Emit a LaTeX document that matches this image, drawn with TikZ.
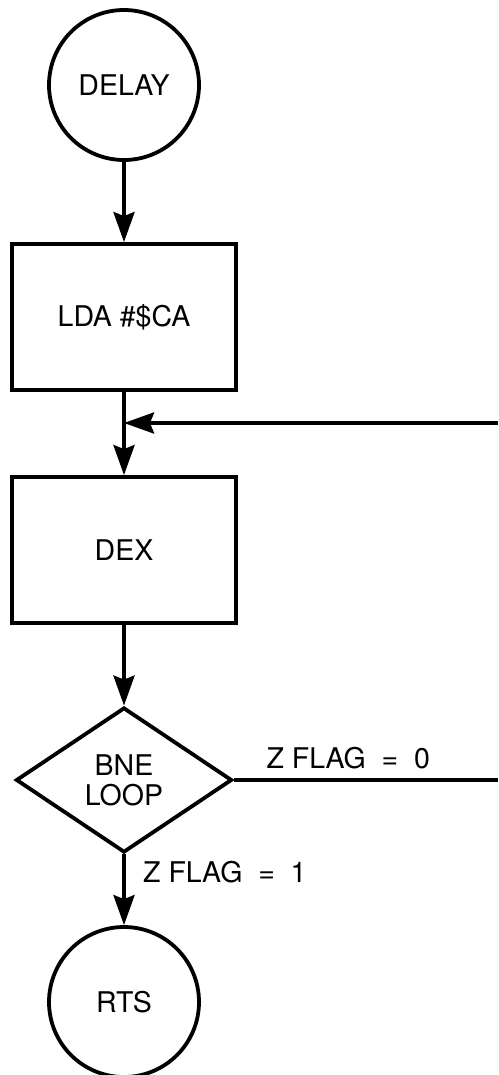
\documentclass[tikz,border=0pt]{standalone}
\usepackage{fontspec}
\setmainfont{TeX Gyre Heros}
\usetikzlibrary{arrows.meta}
\usetikzlibrary{shapes.geometric, math}

\tikzset{
  flow/.style={line width=3.8pt},
  arr/.style={flow, -{Stealth[length=30pt,width=21pt,inset=4pt]}},
  term/.style={draw, flow, circle, minimum size=150pt, inner sep=0pt},
  stepbox/.style={draw, flow, rectangle, minimum width=224pt, minimum height=146pt, inner sep=0pt},
  test/.style={draw, flow, diamond, minimum width=216pt, minimum height=145pt, inner sep=0pt, align=center},
}

\begin{document}
\begin{tikzpicture}[x=1pt, y=-1pt, font=\fontsize{28.5}{30}\selectfont]
\tikzmath{
\cx=124;
\W=498;
}
\useasboundingbox (0,0) rectangle (\W,1075);

\node[term] (delay) at (\cx,85) {DELAY};
\node[stepbox] (lda) at (\cx,317) {LDA \#\$CA};
\node[stepbox] (dex) at (\cx,550) {DEX};
\node[test] (bne) at (\cx,780) {BNE\\LOOP};
\node[term] (rts) at (\cx,1002) {RTS};

\coordinate (loopin) at (\W,423);
\coordinate (join) at (lda.south |- loopin);
\coordinate (loopout) at (\W,780);

\draw[arr] (delay) -- (lda);
\draw[arr] (lda) -- (dex);
\draw[arr] (loopin) -- (join);
\draw[arr] (dex) -- (bne);
\draw[flow] (bne.east) -- (loopout);
\draw[arr] (bne) -- (rts);

\node[anchor=base west] (zfzero) at (263,768) {Z FLAG\ \ =\ \ 0};
\node[anchor=base west, inner sep=0pt] (zfone) at (143,882) {Z FLAG\ \ =\ \ 1};
\end{tikzpicture}
\end{document}
